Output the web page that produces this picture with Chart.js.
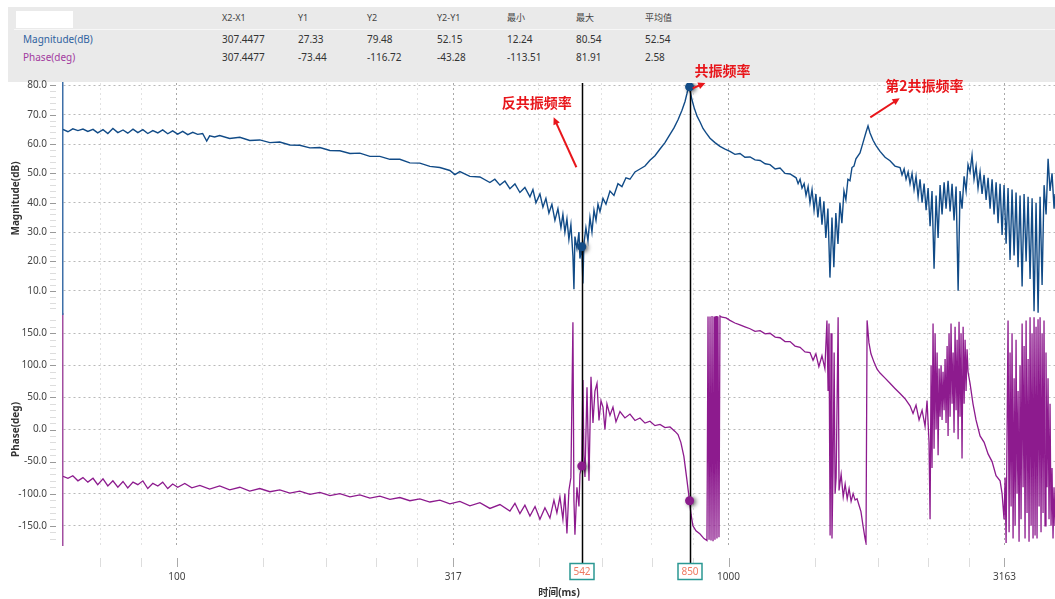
<!DOCTYPE html>
<html>
<head>
<meta charset="utf-8">
<title>Bode plot</title>
<script src="https://cdn.jsdelivr.net/npm/chart.js"></script>
<style>
  html, body { margin: 0; padding: 0; background: #fff; }
  body { width: 1055px; height: 599px; position: relative; overflow: hidden;
         font-family: "Noto Sans", "Noto Sans CJK SC", sans-serif; }
  #panel { position: absolute; left: 8px; top: 7px; width: 1047px; height: 75px; background: #eaeaea; }
  #blank { position: absolute; left: 8px; top: 4px; width: 57px; height: 17px; background: #fff; }
  #sep { position: absolute; left: 6px; top: 22px; right: 0; height: 1px; background: #f7f7f7; }
  .cell { position: absolute; font-size: 10px; line-height: 12px; color: #333; white-space: nowrap; }
  .head { font-size: 9px; color: #444; }
  #chart { position: absolute; left: 0; top: 0; }
</style>
</head>
<body>
<div id="panel"><div id="blank"></div><div id="sep"></div></div>
<canvas id="chart" width="1055" height="599"></canvas>

<script>
  // cursor read-out table
  const tableHeader = ["X2-X1", "Y1", "Y2", "Y2-Y1", "最小", "最大", "平均值"];
  const magRow = ["307.4477", "27.33", "79.48", "52.15", "12.24", "80.54", "52.54"];
  const phaseRow = ["307.4477", "-73.44", "-116.72", "-43.28", "-113.51", "81.91", "2.58"];

  // axes
  const xMajorTicks = [100, 317, 1000, 3163];
  const xTickLabels = ["100", "317", "1000", "3163"];
  const xMinorTicks = [72.6, 86.3, 143.2, 186.5, 229.7, 273.0, 453, 589.7, 726.5, 863.3, 1432, 1865, 2297, 2730];
  const magTicks = [10, 20, 30, 40, 50, 60, 70, 80];
  const phaseTicks = [-150, -100, -50, 0, 50, 100, 150];
  const cursors = [542, 850];

  // magnitude trace (Hz, dB)
  const magFreq = [62.2, 63.5, 64.8, 66.2, 67.6, 69.0, 70.5, 71.9, 73.5, 75.0, 76.6, 78.2, 79.9, 81.5, 83.3, 85.0, 86.8, 88.6, 90.5, 92.4,
    94.3, 96.3, 98.3, 100.4, 102.5, 104.7, 106.9, 109.1, 111.4, 113.3, 114.7, 117.1, 119.6, 124.7, 130.1, 135.6, 141.4, 147.5, 153.7, 160.3,
    167.1, 174.3, 181.7, 189.5, 197.5, 206.0, 214.7, 223.9, 233.4, 243.4, 253.7, 264.5, 275.8, 287.6, 299.8, 312.6, 319.2, 325.9, 339.8, 354.3,
    369.4, 377.1, 385.2, 393.3, 401.6, 410.1, 418.7, 427.5, 436.6, 442.1, 447.7, 455.2, 460.9, 466.7, 472.6, 478.5, 484.6, 490.7, 496.9, 501.0,
    505.2, 509.5, 513.7, 518.0, 522.4, 524.6, 526.8, 531.2, 535.7, 537.9, 542, 544.6, 546.9, 551.5, 556.2, 560.9, 565.6, 570.4, 575.2, 580.0,
    584.8, 592.2, 599.6, 609.7, 620.0, 630.4, 641.0, 651.8, 662.8, 676.8, 691.1, 705.7, 720.5, 735.7, 751.3, 767.1, 783.3, 796.5, 810, 823.5,
    834, 841, 848, 852, 858.8, 866, 877, 888, 899, 910.6, 925.7, 945, 965, 985.5, 1006, 1027, 1049, 1071, 1094, 1117,
    1141, 1165, 1189, 1215, 1240, 1266, 1293, 1326, 1337, 1348, 1359, 1371, 1382, 1394, 1405, 1417, 1429, 1440, 1452, 1465,
    1477, 1489, 1501, 1514, 1527, 1540, 1552, 1565, 1579, 1592, 1605, 1619, 1632, 1646, 1660, 1674, 1688, 1702, 1731, 1753,
    1775, 1790, 1805, 1828, 1851, 1882, 1922, 1962, 2003, 2046, 2063, 2081, 2098, 2116, 2133, 2151, 2169, 2187, 2206, 2224,
    2243, 2262, 2281, 2300, 2319, 2338, 2358, 2378, 2398, 2418, 2438, 2459, 2479, 2500, 2521, 2542, 2563, 2585, 2607, 2628,
    2650, 2673, 2695, 2717, 2740, 2763, 2786, 2810, 2833, 2857, 2881, 2905, 2930, 2954, 2979, 3004, 3029, 3055, 3080, 3106,
    3132, 3158, 3185, 3211, 3238, 3265, 3293, 3320, 3348, 3376, 3405, 3433, 3462, 3491, 3520, 3550, 3579, 3609, 3640, 3670,
    3701, 3732, 3763, 3795, 3826, 3858, 3891, 3906];
  const magDb = [65.0, 64.2, 65.2, 64.6, 65.1, 64.3, 65.0, 63.8, 64.9, 63.6, 65.3, 63.9, 64.8, 63.7, 65.1, 63.9, 64.9, 63.6, 64.6, 63.8,
    64.8, 63.5, 64.5, 63.4, 64.3, 63.2, 64.0, 63.3, 63.6, 61.0, 62.8, 62.4, 62.9, 61.9, 62.3, 61.2, 61.4, 60.5, 60.7, 59.7,
    59.6, 58.7, 58.8, 57.8, 57.7, 56.8, 56.9, 55.8, 55.8, 54.8, 54.8, 53.6, 53.5, 52.4, 52.0, 51.0, 49.6, 50.6, 49.0, 48.8,
    46.9, 48.0, 46.0, 47.4, 44.8, 46.4, 43.5, 45.2, 42.0, 44.5, 40.0, 43.0, 38.5, 41.5, 36.5, 39.5, 34.0, 38.0, 31.5, 36.0,
    30.0, 34.5, 27.5, 32.5, 22.0, 10.5, 28.5, 24.5, 30.0, 21.0, 25.0, 12.5, 26.0, 31.5, 27.0, 35.0, 30.0, 37.5, 34.0, 39.5,
    37.0, 41.5, 39.5, 44.0, 42.5, 46.5, 45.5, 48.5, 48.0, 50.5, 51.5, 52.5, 54.5, 56.0, 58.3, 60.5, 63.3, 65.5, 68.3, 71.5,
    74.5, 77.3, 80.4, 78.0, 75.0, 72.5, 69.5, 67.5, 65.3, 63.8, 62.0, 60.5, 59.2, 58.3, 57.5, 56.5, 56.8, 55.5, 55.6, 54.6,
    54.4, 53.3, 53.0, 51.5, 51.8, 50.0, 49.8, 48.5, 46.5, 48.0, 45.0, 46.5, 42.5, 45.5, 40.0, 44.5, 37.5, 43.0, 35.0, 42.0,
    32.5, 40.5, 28.0, 38.0, 14.5, 35.0, 18.0, 36.5, 26.0, 40.0, 33.0, 44.0, 41.0, 48.0, 47.5, 52.0, 52.5, 55.0, 57.0, 60.5,
    64.0, 66.2, 63.8, 61.3, 59.5, 57.5, 55.5, 54.3, 52.5, 52.0, 49.5, 51.5, 48.0, 50.5, 46.5, 50.0, 44.5, 49.0, 42.0, 48.0,
    40.0, 46.5, 37.5, 45.0, 32.0, 44.0, 17.5, 42.5, 28.0, 46.0, 36.0, 47.0, 38.0, 47.5, 37.0, 46.5, 34.0, 45.5, 10.0, 44.0,
    38.0, 49.0, 44.0, 53.0, 50.5, 56.2, 48.0, 52.5, 45.0, 50.5, 43.0, 49.5, 41.0, 48.5, 38.0, 48.0, 36.0, 47.0, 33.0, 46.5,
    29.0, 46.0, 26.0, 45.0, 20.5, 44.5, 22.0, 43.5, 18.0, 42.5, 11.5, 43.0, 20.0, 42.0, 14.0, 41.5, 3.0, 40.0, 2.5, 42.0,
    12.0, 46.0, 36.0, 55.0, 44.0, 50.0, 38.0, 43.0];

  // phase trace (Hz, deg)
  const phaseFreq = [62.2, 63.5, 64.8, 66.2, 67.6, 69.0, 70.5, 71.9, 73.5, 75.0, 76.6, 78.2, 79.9, 81.5, 83.3, 85.0, 86.8, 88.6, 90.5, 92.4,
    94.3, 96.3, 98.3, 100.4, 103.4, 106.5, 110.1, 114.7, 119.6, 124.7, 130.1, 135.6, 141.4, 147.5, 153.7, 160.3, 167.1, 174.3, 181.7, 189.5,
    197.5, 206.0, 214.7, 223.9, 233.4, 243.4, 253.7, 264.5, 275.8, 287.6, 299.8, 312.6, 325.9, 339.8, 354.3, 369.4, 385.2, 401.6, 410.1, 418.7,
    427.5, 436.6, 446, 455.2, 464.8, 474.6, 482.6, 488.6, 494.8, 501.0, 505.2, 509.5, 513.7, 518.0, 522.4, 524.6, 526.8, 531.2, 535.7, 537.9,
    542, 544.6, 546.9, 549.3, 554, 558.6, 563.3, 568, 572.7, 577.6, 582.4, 587.3, 592.2, 597.1, 602.1, 609.7, 617.4, 625.2, 635.7, 649,
    662.8, 676.8, 691.1, 705.7, 720.5, 735.7, 751.3, 767.1, 783.3, 800, 810, 819.6, 830, 840.5, 848, 855, 862, 873, 888, 902.7,
    914, 918, 922, 925.7, 929.6, 933.5, 937.4, 941.3, 945, 949.3, 953, 957, 961, 965, 973, 989.6, 1006, 1027, 1049, 1071,
    1094, 1117, 1141, 1165, 1189, 1215, 1240, 1266, 1293, 1320, 1348, 1376, 1405, 1423, 1440, 1458, 1477, 1495, 1508, 1515,
    1521, 1528, 1534, 1540, 1547, 1554, 1560, 1567, 1580, 1586, 1600, 1614, 1627, 1641, 1654, 1668, 1682, 1696, 1710, 1724,
    1738, 1753, 1768, 1775, 1783, 1797, 1812, 1835, 1859, 1882, 1922, 1962, 2003, 2046, 2089, 2133, 2160, 2187, 2215, 2243,
    2271, 2290, 2309, 2319, 2329, 2338, 2348, 2358, 2368, 2378, 2388, 2398, 2408, 2418, 2428, 2438, 2448, 2459, 2469, 2479,
    2490, 2500, 2510, 2521, 2531, 2542, 2553, 2563, 2574, 2585, 2596, 2607, 2617, 2628, 2639, 2650, 2662, 2673, 2684, 2695,
    2706, 2717, 2740, 2774, 2809, 2857, 2906, 2954, 3004, 3054, 3106, 3132, 3158, 3172, 3185, 3211, 3225,
    3238, 3252, 3265, 3279, 3293, 3307, 3320, 3334, 3348, 3362, 3376, 3390, 3405, 3419, 3433, 3447, 3462, 3476, 3491, 3505,
    3520, 3535, 3549, 3564, 3579, 3594, 3609, 3624, 3639, 3655, 3670, 3685, 3701, 3716, 3731, 3747, 3762, 3778, 3794, 3810,
    3826, 3842, 3858, 3874, 3890, 3906];
  const phaseDeg = [-73, -76, -72, -80, -75, -82, -76, -86, -77, -88, -80, -90, -81, -91, -82, -86, -80, -92, -84, -88,
    -82, -92, -85, -90, -84, -91, -87, -93, -88, -94, -90, -96, -92, -97, -94, -99, -96, -101, -98, -103,
    -100, -105, -102, -107, -104, -109, -106, -111, -108, -113, -110, -116, -112, -119, -114, -123, -117, -127, -115, -131,
    -118, -135, -120, -140, -122, -138, -110, -130, -105, -140, -100, -162, -95, -75, 167, -110, -164, -90, -120, -70,
    -57, 77, -40, -74, 66, -80, 82, 10, 60, 72, 14, 45, 35, 0, 40, 22, 35, 12, 28, 18,
    24, 14, 18, 10, 13, 6, 8, 3, 4, -3, -8, -20, -42, -78, -105, -132, -150, -158, -163, -170,
    -173, 176, -172, 176, -173, 177, -174, 176, -172, 177, -170, 176, -168, 177, 175, 174, 170, 166, 163, 160,
    157, 153, 154, 149, 150, 144, 143, 137, 137, 130, 128, 121, 120, 108, 118, 98, 115, 95, 170, 60,
    165, -165, 150, -170, -60, 120, -100, -75, 175, -95, -70, -105, -85, -108, -92, -112, -100, -110, -108, -118,
    -128, -150, -170, -177, 170, 135, 118, 105, 94, 88, 80, 72, 64, 56, 48, 37, 25, 38, 15, 30,
    5, 45, -20, -140, 100, -60, 165, -30, 150, 0, 120, -40, 95, 20, 100, 15, 90, 30, 110, 10,
    130, -10, 150, 20, 165, 40, 120, -5, 160, 30, 140, -15, 168, 20, 150, -45, 160, 40, 140, 60,
    125, 90, 72, 40, 15, -10, -20, -38, -50, -72, -80, -100, -140, -75, -177, 170, -160,
    120, -120, 150, -170, 80, -150, 140, -100, 60, -175, 100, -140, 165, -90, 130, -170, 170, -130, 110, -175,
    175, -150, 150, -170, 175, -165, 160, -170, 172, -120, 175, -160, 150, -130, 170, -150, 120, -90, 80, -140,
    40, -150, -60, -170, -90, -150];

  // cursor read points
  const markerMag = [25.0, 79.5];
  const markerPhase = [-57, -111];

  const RED = "#e8161b";
  const annotations = [
    { text: "反共振频率", at: [449, 74.2], from: [530, 52.1], to: [482, 69.1] },
    { text: "共振频率", at: [975, 85.1], from: [861, 79.0], to: [908, 80.8] },
    { text: "第2共振频率", at: [2265, 80.0], from: [1807, 69.1], to: [2043, 75.6] }
  ];

  // table
  const panel = document.getElementById("panel");
  const colLeft = [214, 290, 359, 429, 499, 568, 637];
  function cell(text, left, top, cls, color) {
    const d = document.createElement("div");
    d.className = "cell " + (cls || "");
    d.textContent = text;
    d.style.left = left + "px";
    d.style.top = top + "px";
    if (color) d.style.color = color;
    panel.appendChild(d);
  }
  tableHeader.forEach((t, i) => cell(t, colLeft[i], 5, "head"));
  cell("Magnitude(dB)", 15, 26, "", "#2f62a0");
  cell("Phase(deg)", 15, 44, "", "#a23a9f");
  magRow.forEach((t, i) => cell(t, colLeft[i], 26));
  phaseRow.forEach((t, i) => cell(t, colLeft[i], 44));

  Chart.defaults.font.family = '"Noto Sans", "Noto Sans CJK SC", sans-serif';
  Chart.defaults.font.size = 10;
  Chart.defaults.color = "#444";

  const magnitude = magFreq.map((f, i) => ({ x: f, y: magDb[i] }));
  const phase = phaseFreq.map((f, i) => ({ x: f, y: phaseDeg[i] }));
  const xTicks = xMinorTicks.concat(xMajorTicks).sort((a, b) => a - b);

  function arrow(ctx, x1, y1, x2, y2) {
    const a = Math.atan2(y2 - y1, x2 - x1);
    ctx.beginPath();
    ctx.moveTo(x1, y1);
    ctx.lineTo(x2 - 5 * Math.cos(a), y2 - 5 * Math.sin(a));
    ctx.stroke();
    ctx.beginPath();
    ctx.moveTo(x2, y2);
    ctx.lineTo(x2 - 8 * Math.cos(a - 0.45), y2 - 8 * Math.sin(a - 0.45));
    ctx.lineTo(x2 - 8 * Math.cos(a + 0.45), y2 - 8 * Math.sin(a + 0.45));
    ctx.closePath();
    ctx.fill();
  }

  function drawCursors(chart) {
    const ctx = chart.ctx, xs = chart.scales.x;
    ctx.save();
    ctx.strokeStyle = "#000";
    ctx.lineWidth = 1.5;
    cursors.forEach(v => {
      const x = Math.round(xs.getPixelForValue(v)) + 0.5;
      ctx.beginPath();
      ctx.moveTo(x, chart.chartArea.top);
      ctx.lineTo(x, 563);
      ctx.stroke();
    });
    ctx.restore();
  }

  const decor = {
    id: "decor",
    beforeDraw(chart) { chart.$cursorsDone = false; },
    beforeDatasetDraw(chart, args) {
      if (!chart.data.datasets[args.index].isMarker) return;
      if (!chart.$cursorsDone) { drawCursors(chart); chart.$cursorsDone = true; }
      const ctx = chart.ctx;
      ctx.save();
      ctx.shadowColor = "rgba(0,0,0,0.6)";
      ctx.shadowBlur = 4;
      ctx.shadowOffsetX = 2;
      ctx.shadowOffsetY = 1;
    },
    afterDatasetDraw(chart, args) {
      if (chart.data.datasets[args.index].isMarker) chart.ctx.restore();
    },
    afterDraw(chart) {
      const ctx = chart.ctx, xs = chart.scales.x, ms = chart.scales.mag, ps = chart.scales.ph;
      ctx.save();
      ctx.lineWidth = 1;
      // y tick marks, detached from the axis line
      for (let v = 4; v <= 80; v += 2) {
        const y = Math.round(ms.getPixelForValue(v)) + 0.5;
        ctx.strokeStyle = v % 10 === 0 ? "#999" : "#ddd";
        ctx.beginPath(); ctx.moveTo(50, y); ctx.lineTo(56, y); ctx.stroke();
      }
      for (let v = -170; v <= 170; v += 10) {
        const y = Math.round(ps.getPixelForValue(v)) + 0.5;
        ctx.strokeStyle = v % 50 === 0 ? "#999" : "#ddd";
        ctx.beginPath(); ctx.moveTo(50, y); ctx.lineTo(56, y); ctx.stroke();
      }
      // x tick marks
      xTicks.forEach(v => {
        const x = Math.round(xs.getPixelForValue(v)) + 0.5;
        ctx.strokeStyle = xMajorTicks.includes(v) ? "#aaa" : "#ddd";
        ctx.beginPath(); ctx.moveTo(x, 558); ctx.lineTo(x, 567); ctx.stroke();
      });
      // cursor labels
      ctx.font = '10px "Noto Sans", sans-serif';
      ctx.textAlign = "center";
      ctx.textBaseline = "middle";
      cursors.forEach(v => {
        const x = Math.round(xs.getPixelForValue(v));
        ctx.fillStyle = "#fff";
        ctx.strokeStyle = "#2b9893";
        ctx.lineWidth = 1.5;
        ctx.beginPath();
        ctx.rect(x - 12, 563.5, 24, 16);
        ctx.fill(); ctx.stroke();
        ctx.fillStyle = "#ee7a62";
        ctx.fillText(String(v), x, 572);
      });
      // annotations
      ctx.fillStyle = RED;
      ctx.strokeStyle = RED;
      ctx.lineWidth = 2;
      ctx.font = 'bold 14px "Noto Sans CJK SC", sans-serif';
      annotations.forEach(a => {
        ctx.fillText(a.text, xs.getPixelForValue(a.at[0]), ms.getPixelForValue(a.at[1]));
        arrow(ctx, xs.getPixelForValue(a.from[0]), ms.getPixelForValue(a.from[1]),
                   xs.getPixelForValue(a.to[0]), ms.getPixelForValue(a.to[1]));
      });
      ctx.restore();
    }
  };

  const gridDash = [2, 3];

  new Chart(document.getElementById("chart"), {
    type: "line",
    data: {
      datasets: [
        { isMarker: true, data: cursors.map((c, i) => ({ x: c, y: markerMag[i] })), yAxisID: "mag", order: 0,
          showLine: false, pointRadius: 4.5, pointBackgroundColor: "#134c86", pointBorderWidth: 0 },
        { isMarker: true, data: cursors.map((c, i) => ({ x: c, y: markerPhase[i] })), yAxisID: "ph", order: 0,
          showLine: false, pointRadius: 4.5, pointBackgroundColor: "#8b1c8c", pointBorderWidth: 0 },
        { label: "Magnitude(dB)", data: magnitude, yAxisID: "mag", order: 1,
          borderColor: "#114b87", borderWidth: 1.4, pointRadius: 0, tension: 0 },
        { label: "Phase(deg)", data: phase, yAxisID: "ph", order: 1,
          borderColor: "#8d1b8e", borderWidth: 1.3, pointRadius: 0, tension: 0 }
      ]
    },
    options: {
      responsive: false,
      animation: false,
      events: [],
      layout: { autoPadding: false, padding: { top: 83, left: 0, right: 0, bottom: 0 } },
      plugins: { legend: { display: false }, tooltip: { enabled: false } },
      scales: {
        x: {
          type: "logarithmic", min: 62.2, max: 3906,
          afterBuildTicks: s => { s.ticks = xTicks.map(v => ({ value: v })); },
          afterFit: s => { s.height = 54; s.paddingLeft = 0; s.paddingRight = 0; },
          ticks: {
            autoSkip: false, maxRotation: 0, padding: 26, color: "#444",
            callback: v => { const i = xMajorTicks.indexOf(v); return i >= 0 ? xTickLabels[i] : ""; }
          },
          grid: { drawTicks: false, color: c => xMajorTicks.includes(c.tick && c.tick.value) ? "#a9a9a9" : "#e2e2e2" },
          border: { display: false, dash: gridDash },
          title: { display: true, text: "时间(ms)", color: "#333", font: { size: 10, weight: "bold" }, padding: 0 }
        },
        ph: {
          type: "linear", position: "left", stack: "bode", stackWeight: 1, min: -180, max: 180,
          afterBuildTicks: s => { s.ticks = phaseTicks.map(v => ({ value: v })); },
          afterFit: s => { s.width = 63; },
          ticks: { padding: 16, color: "#444", callback: v => v.toFixed(1) },
          grid: { drawTicks: false, color: "#b9b9b9" },
          border: { color: "#a24ea0", width: 1.5, dash: gridDash },
          title: { display: true, text: "Phase(deg)", color: "#333", font: { size: 10, weight: "bold" }, padding: { top: 10, bottom: 0 } }
        },
        mag: {
          type: "linear", position: "left", stack: "bode", stackWeight: 1, min: 2.1, max: 80.8,
          afterBuildTicks: s => { s.ticks = magTicks.map(v => ({ value: v })); },
          afterFit: s => { s.width = 63; },
          ticks: { padding: 16, color: "#444", callback: v => v.toFixed(1) },
          grid: { drawTicks: false, color: "#b9b9b9" },
          border: { color: "#3d6fa8", width: 1.5, dash: gridDash },
          title: { display: true, text: "Magnitude(dB)", color: "#333", font: { size: 10, weight: "bold" }, padding: { top: 10, bottom: 0 } }
        }
      }
    },
    plugins: [decor]
  });
</script>
</body>
</html>
